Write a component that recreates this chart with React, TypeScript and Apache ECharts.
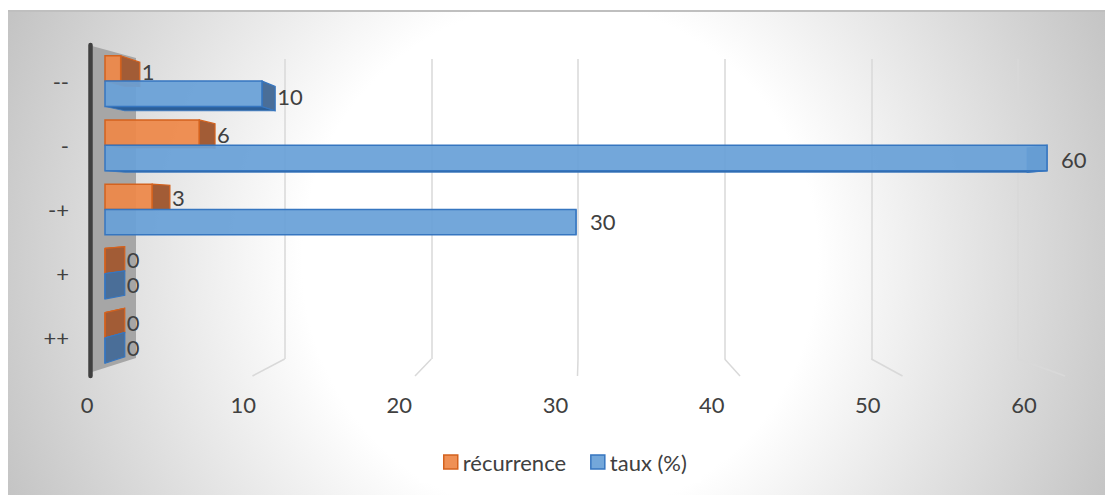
import React, { useEffect, useRef } from "react";
import * as echarts from "echarts";

const categories = ["--", "-", "-+", "+", "++"];
const recurrence = [1, 6, 3, 0, 0];
const taux = [10, 60, 30, 0, 0];
const seriesNames = ["récurrence", "taux (%)"];
const valueTicks = [0, 10, 20, 30, 40, 50, 60];

const FONT = 'Lato, "Open Sans", "Liberation Sans", sans-serif';
const TEXT = "#404040";
const FS = 22;
const AX_MAX = 60;

const palettes = [
  { front: "rgba(238,136,72,0.93)", stroke: "#D4621E", end: "#A25C36", cap: "#B8581E" },
  { front: "rgba(104,160,215,0.93)", stroke: "#3676C0", end: "#4A6E98", cap: "#2C5F99" },
];

const DEPTH = 0.042;

// layout of the three grids (bars, back gridlines, front labels)
const BAR_GRID = { left: 105, top: 49, width: 942, height: 321 };
const BACK_GRID = { left: 138, top: 59, width: 880, height: 300 };
const LABEL_GRID = { left: 87, top: 49, width: 937, height: 342 };
const FRONT_X0 = 90;
const FRONT_STEP = 16.25;
const FLOOR_Y = 376;

function makeRenderItem(si: number) {
  const pal = palettes[si];
  return (params: any, api: any) => {
    const val = api.value(0);
    const cat = api.value(1);
    const band = api.size([0, 1])[1];
    const bh = band * 0.395;
    const p0 = api.coord([0, cat]);
    const p1 = api.coord([val, cat]);
    const V = api.coord([AX_MAX / 2, (categories.length - 1) / 2]);
    const x0 = p0[0];
    const x1 = p1[0];
    const yc = p0[1];
    const y0 = si === 0 ? yc - bh : yc;
    const y1 = y0 + bh;
    const proj = (x: number, y: number) => [x + (V[0] - x) * DEPTH, y + (V[1] - y) * DEPTH];
    const children: any[] = [];
    if (y1 < V[1]) {
      children.push({
        type: "polygon",
        shape: { points: [[x0, y1], [x1, y1], proj(x1, y1), proj(x0, y1)] },
        style: { fill: pal.cap, stroke: pal.stroke, lineWidth: 0.8 },
      });
    } else if (y0 > V[1]) {
      children.push({
        type: "polygon",
        shape: { points: [[x0, y0], [x1, y0], proj(x1, y0), proj(x0, y0)] },
        style: { fill: pal.cap, stroke: pal.stroke, lineWidth: 0.8 },
      });
    }
    children.push({
      type: "polygon",
      shape: { points: [[x1, y0], proj(x1, y0), proj(x1, y1), [x1, y1]] },
      style: { fill: pal.end, stroke: pal.stroke, lineWidth: 1.2 },
    });
    children.push({
      type: "rect",
      shape: { x: x0, y: y0, width: x1 - x0, height: bh },
      style: { fill: pal.front, stroke: pal.stroke, lineWidth: 1.5 },
    });
    const bEnd = proj(x1, y0)[0];
    const tx = x1 >= V[0] - 1 ? x1 + 14 : bEnd + 2;
    const ty = ((y0 + y1) / 2 + (proj(x1, y0)[1] + proj(x1, y1)[1]) / 2) / 2;
    children.push({
      type: "text",
      style: {
        text: String(val),
        x: tx,
        y: ty,
        align: "left",
        verticalAlign: "middle",
        fontSize: FS,
        fontFamily: FONT,
        fill: TEXT,
      },
    });
    return { type: "group", children };
  };
}

export default function App() {
  const ref = useRef<HTMLDivElement>(null);
  useEffect(() => {
    const chart = echarts.init(ref.current!, null, { renderer: "svg" });
    const seriesData = [recurrence, taux];
    const backStep = BACK_GRID.width / AX_MAX;
    const floorLines = valueTicks
      .filter((v) => v > 0)
      .map((v) => ({
        type: "line",
        z: 1,
        silent: true,
        shape: {
          x1: BACK_GRID.left + v * backStep,
          y1: BACK_GRID.top + BACK_GRID.height,
          x2: FRONT_X0 + v * FRONT_STEP,
          y2: FLOOR_Y,
        },
        style: { stroke: "#d9d9d9", lineWidth: 1.5 },
      }));
    const option: any = {
      animation: false,
      graphic: [
        {
          type: "rect",
          z: -100,
          silent: true,
          shape: { x: 8, y: 10, width: 1097, height: 485 },
          style: {
            fill: {
              type: "radial",
              x: 560,
              y: 260,
              r: 600,
              global: true,
              colorStops: [
                { offset: 0, color: "#ffffff" },
                { offset: 0.43, color: "#ffffff" },
                { offset: 1, color: "#c4c4c4" },
              ],
            },
          },
        },
        {
          type: "line",
          z: -99,
          silent: true,
          shape: { x1: 8, y1: 11, x2: 1105, y2: 11 },
          style: { stroke: "#bfbfbf", lineWidth: 2 },
        },
        {
          type: "polygon",
          z: 1,
          silent: true,
          shape: { points: [[92, 46], [136, 58], [136, 358], [92, 372]] },
          style: { fill: "#a6a6a6" },
        },
        {
          type: "line",
          z: 2,
          silent: true,
          shape: { x1: 90.5, y1: 45, x2: 90.5, y2: 376 },
          style: { stroke: "#404040", lineWidth: 4.5, lineCap: "round" },
        },
        ...floorLines,
      ],
      legend: {
        left: 419,
        top: 441,
        padding: [10, 15, 10, 24],
        backgroundColor: "rgba(255,255,255,0.5)",
        itemWidth: 14,
        itemHeight: 14,
        itemGap: 24,
        textStyle: { fontSize: FS, color: TEXT, fontFamily: FONT },
        data: seriesNames.map((n, i) => ({
          name: n,
          icon: "rect",
          itemStyle: { color: palettes[i].front, borderColor: palettes[i].stroke, borderWidth: 1.5 },
        })),
      },
      grid: [
        { ...BAR_GRID, containLabel: false },
        { ...BACK_GRID, containLabel: false },
        { ...LABEL_GRID, containLabel: false },
      ],
      xAxis: [
        { gridIndex: 0, type: "value", min: 0, max: AX_MAX, show: false },
        {
          gridIndex: 1,
          type: "value",
          min: 0,
          max: AX_MAX,
          interval: 10,
          axisLine: { show: false },
          axisTick: { show: false },
          axisLabel: { show: false },
          splitLine: { show: true, showMinLine: false, lineStyle: { color: "#d9d9d9", width: 1.5 } },
        },
        {
          gridIndex: 2,
          type: "value",
          min: 0,
          max: AX_MAX,
          interval: 10,
          axisLine: { show: false },
          axisTick: { show: false },
          splitLine: { show: false },
          axisLabel: { fontSize: FS, color: TEXT, fontFamily: FONT, margin: 2 },
        },
      ],
      yAxis: [
        {
          gridIndex: 0,
          type: "category",
          inverse: true,
          data: categories,
          axisLine: { show: false },
          axisTick: { show: false },
          splitLine: { show: false },
          axisLabel: { fontSize: FS, color: TEXT, fontFamily: FONT, margin: 36 },
        },
        { gridIndex: 1, type: "value", show: false },
        { gridIndex: 2, type: "value", show: false },
      ],
      series: seriesNames.map((name, si) => ({
        type: "custom",
        name,
        xAxisIndex: 0,
        yAxisIndex: 0,
        clip: false,
        z: 5,
        itemStyle: { color: palettes[si].front, borderColor: palettes[si].stroke },
        encode: { x: 0, y: 1 },
        renderItem: makeRenderItem(si),
        data: seriesData[si].map((v, i) => [v, i]),
      })),
    };
    chart.setOption(option);
    return () => chart.dispose();
  }, []);
  return (
    <div
      ref={ref}
      style={{ position: "absolute", left: 0, top: 0, width: 1105, height: 495 }}
    />
  );
}
